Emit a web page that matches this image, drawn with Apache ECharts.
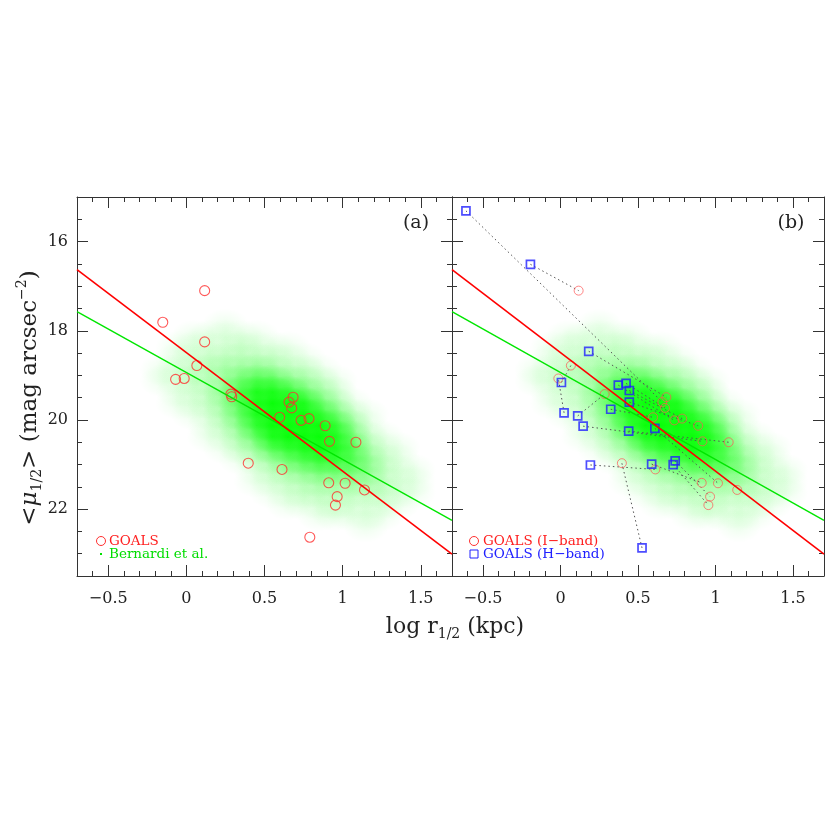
<!DOCTYPE html>
<html lang="en">
<head>
<meta charset="UTF-8">
<title>GOALS size - surface brightness</title>
<script src="https://cdn.jsdelivr.net/npm/echarts@6.0.0/dist/echarts.min.js"></script>
<style>
    body { margin: 0; background: #fff; }
    #main { width: 830px; height: 830px; }
</style>
</head>
<body>
<div id="main"></div>
<script>
// GOALS I-band galaxies: log r1/2 (kpc), <mu1/2>
let goalsIX = [0.117, -0.151, 0.117, 0.067, -0.069, -0.014, 0.285, 0.290, 0.683, 0.657,
    0.674, 0.597, 0.734, 0.785, 0.888, 0.916, 1.085, 0.396, 0.612, 0.911,
    1.016, 1.140, 0.965, 0.954, 0.790];
let goalsIY = [17.10, 17.81, 18.25, 18.78, 19.09, 19.07, 19.42, 19.48, 19.49, 19.60,
    19.73, 19.94, 20.01, 19.97, 20.13, 20.48, 20.50, 20.97, 21.11, 21.41,
    21.42, 21.57, 21.72, 21.91, 22.63];
// the I-band points that are drawn again in panel (b)
let goalsIShownB = [0, 3, 5, 6, 8, 9, 10, 11, 12, 13, 14, 15, 16, 17, 18, 19, 20, 21, 22, 23];

// GOALS H-band galaxies
let goalsHX = [-0.610, -0.194, 0.182, 0.006, 0.373, 0.423, 0.444, 0.444, 0.324, 0.023,
    0.111, 0.146, 0.440, 0.609, 0.193, 0.588, 0.727, 0.740, 0.526];
let goalsHY = [15.31, 16.51, 18.46, 19.16, 19.22, 19.18, 19.34, 19.60, 19.76, 19.84,
    19.91, 20.14, 20.25, 20.19, 21.01, 20.99, 21.00, 20.92, 22.87];
// I-band point that each H-band point is joined to
let goalsHMatch = [9, 0, 8, 3, 12, 10, 13, 14, 11, 5, 6, 15, 16, 20, 18, 19, 23, 22, 17];

// fitted relations
let fitX = [-0.7, 1.7];
let goalsFitY = [16.63, 23.01];
let bernardiFitY = [17.57, 22.25];

let cloudX = [-0.4, -0.3, -0.2, -0.1, 0.0, 0.1, 0.2, 0.3, 0.4, 0.5,
    0.6, 0.7, 0.8, 0.9, 1.0, 1.1, 1.2, 1.3, 1.4, 1.5];
let cloudY = [17.75, 18.0, 18.25, 18.5, 18.75, 19.0, 19.25, 19.5, 19.75, 20.0,
    20.25, 20.5, 20.75, 21.0, 21.25, 21.5, 21.75, 22.0, 22.25];
let cloudDensity = [
    [0, 0, 0, 0, 0, 0, 1, 0, 0, 0, 0, 0, 0, 0, 0, 0, 0, 0, 0, 0],
    [0, 0, 0, 0, 1, 1, 1, 1, 1, 0, 0, 0, 0, 0, 0, 0, 0, 0, 0, 0],
    [0, 0, 0, 1, 1, 1, 1, 2, 1, 1, 1, 0, 0, 0, 0, 0, 0, 0, 0, 0],
    [0, 0, 0, 1, 1, 2, 2, 2, 2, 2, 1, 1, 0, 0, 0, 0, 0, 0, 0, 0],
    [0, 0, 1, 1, 2, 2, 3, 3, 4, 3, 2, 2, 1, 0, 0, 0, 0, 0, 0, 0],
    [0, 0, 1, 1, 2, 2, 3, 5, 6, 6, 4, 3, 2, 1, 0, 0, 0, 0, 0, 0],
    [0, 0, 0, 1, 1, 2, 4, 6, 8, 8, 7, 5, 3, 2, 0, 0, 0, 0, 0, 0],
    [0, 0, 0, 1, 1, 2, 3, 6, 8, 9, 9, 8, 5, 3, 1, 0, 0, 0, 0, 0],
    [0, 0, 0, 0, 1, 1, 3, 5, 8, 9, 9, 9, 7, 5, 2, 1, 0, 0, 0, 0],
    [0, 0, 0, 0, 0, 1, 2, 4, 7, 9, 9, 9, 9, 7, 4, 1, 0, 0, 0, 0],
    [0, 0, 0, 0, 0, 1, 1, 3, 5, 8, 9, 9, 9, 8, 5, 2, 1, 0, 0, 0],
    [0, 0, 0, 0, 0, 0, 1, 2, 3, 6, 7, 8, 9, 8, 6, 3, 1, 1, 0, 0],
    [0, 0, 0, 0, 0, 0, 0, 1, 2, 3, 5, 6, 7, 7, 6, 4, 2, 1, 0, 0],
    [0, 0, 0, 0, 0, 0, 0, 0, 1, 2, 3, 4, 5, 5, 5, 4, 2, 1, 1, 0],
    [0, 0, 0, 0, 0, 0, 0, 0, 1, 1, 2, 2, 3, 3, 3, 3, 2, 1, 1, 0],
    [0, 0, 0, 0, 0, 0, 0, 0, 0, 1, 1, 2, 2, 2, 2, 2, 2, 1, 1, 0],
    [0, 0, 0, 0, 0, 0, 0, 0, 0, 0, 1, 1, 1, 2, 1, 1, 1, 1, 0, 0],
    [0, 0, 0, 0, 0, 0, 0, 0, 0, 0, 0, 0, 1, 1, 1, 1, 1, 0, 0, 0],
    [0, 0, 0, 0, 0, 0, 0, 0, 0, 0, 0, 0, 0, 0, 0, 1, 0, 0, 0, 0]
];

// axis ticks
let xMajorTicks = [-0.5, 0, 0.5, 1, 1.5];
let yMajorTicks = [16, 18, 20, 22];

// drawing settings
let cellW = 0.1, cellH = 0.25;
let blobAlpha = [0, 0.07, 0.13, 0.20, 0.27, 0.35, 0.46, 0.58, 0.72, 0.87];
let font = 'DejaVu Serif';
let axisColor = '#333';
let textColor = '#222';

let cloudData = [];
cloudDensity.forEach(function (row, r) {
    row.forEach(function (d, c) {
        if (d > 0) cloudData.push([cloudX[c], cloudY[r], d]);
    });
});

let goalsIData = goalsIX.map(function (x, i) { return [x, goalsIY[i]]; });
let goalsIDataB = goalsIShownB.map(function (i) { return [goalsIX[i], goalsIY[i]]; });
let goalsHData = goalsHX.map(function (x, i) { return [x, goalsHY[i]]; });
let joinData = goalsHX.map(function (x, i) {
    let j = goalsHMatch[i];
    return {coords: [[x, goalsHY[i]], [goalsIX[j], goalsIY[j]]]};
});
let goalsFit = fitX.map(function (x, i) { return [x, goalsFitY[i]]; });
let bernardiFit = fitX.map(function (x, i) { return [x, bernardiFitY[i]]; });

function fmt(v) {
    return v < 0 ? '\u2212' + (-v) : String(v);
}

// each grid cell is drawn as a soft green blob so the cloud has no hard edges
function renderCell(params, api) {
    let x = api.value(0), y = api.value(1), a = blobAlpha[api.value(2)];
    let c = api.coord([x + cellW / 2, y + cellH / 2]);
    let p0 = api.coord([x, y]);
    let p1 = api.coord([x + cellW, y + cellH]);
    let rx = 1.5 * Math.abs(p1[0] - p0[0]);
    let ry = 1.5 * Math.abs(p1[1] - p0[1]);
    return {
        type: 'circle',
        x: c[0], y: c[1], scaleY: ry / rx,
        shape: {cx: 0, cy: 0, r: rx},
        style: {
            fill: new echarts.graphic.RadialGradient(0.5, 0.5, 0.5, [
                {offset: 0, color: 'rgba(0,255,0,' + a + ')'},
                {offset: 1, color: 'rgba(0,255,0,0)'}
            ])
        }
    };
}

function xAxesFor(g) {
    let ls = {color: axisColor};
    return [
        {gridIndex: g, type: 'value', min: -0.7, max: 1.7, position: 'bottom',
            axisLine: {show: true, onZero: false, lineStyle: ls},
            axisTick: {inside: true, length: 11, customValues: xMajorTicks, lineStyle: ls},
            axisLabel: {customValues: xMajorTicks, formatter: fmt, margin: 15, fontSize: 16,
                fontFamily: font, color: textColor},
            splitLine: {show: false}},
        {gridIndex: g, type: 'value', min: -0.7, max: 1.7, interval: 0.1, position: 'bottom',
            axisLine: {show: false, onZero: false},
            axisTick: {inside: true, length: 5, lineStyle: ls},
            axisLabel: {show: false}, splitLine: {show: false}},
        {gridIndex: g, type: 'value', min: -0.7, max: 1.7, position: 'top',
            axisLine: {show: true, onZero: false, lineStyle: ls},
            axisTick: {inside: true, length: 11, customValues: xMajorTicks, lineStyle: ls},
            axisLabel: {show: false}, splitLine: {show: false}},
        {gridIndex: g, type: 'value', min: -0.7, max: 1.7, interval: 0.1, position: 'top',
            axisLine: {show: false, onZero: false},
            axisTick: {inside: true, length: 5, lineStyle: ls},
            axisLabel: {show: false}, splitLine: {show: false}}
    ];
}

function yAxesFor(g, labels) {
    let ls = {color: axisColor};
    return [
        {gridIndex: g, type: 'value', min: 15, max: 23.5, inverse: true, position: 'left',
            axisLine: {show: true, onZero: false, lineStyle: ls},
            axisTick: {inside: true, length: 11, customValues: yMajorTicks, lineStyle: ls},
            axisLabel: {show: labels, customValues: yMajorTicks, margin: 9, fontSize: 16,
                fontFamily: font, color: textColor},
            splitLine: {show: false}},
        {gridIndex: g, type: 'value', min: 15, max: 23.5, interval: 0.5, inverse: true, position: 'left',
            axisLine: {show: false, onZero: false},
            axisTick: {inside: true, length: 5, lineStyle: ls},
            axisLabel: {show: false}, splitLine: {show: false}},
        {gridIndex: g, type: 'value', min: 15, max: 23.5, inverse: true, position: 'right',
            axisLine: {show: true, onZero: false, lineStyle: ls},
            axisTick: {inside: true, length: 11, customValues: yMajorTicks, lineStyle: ls},
            axisLabel: {show: false}, splitLine: {show: false}},
        {gridIndex: g, type: 'value', min: 15, max: 23.5, interval: 0.5, inverse: true, position: 'right',
            axisLine: {show: false, onZero: false},
            axisTick: {inside: true, length: 5, lineStyle: ls},
            axisLabel: {show: false}, splitLine: {show: false}}
    ];
}

function titleRich(size) {
    let small = Math.round(size * 0.62);
    return {
        a: {fontSize: size, fontFamily: font, fill: textColor, lineHeight: size + 6},
        m: {fontSize: size, fontFamily: font, fontStyle: 'italic', fill: textColor, lineHeight: size + 6},
        s: {fontSize: small, fontFamily: font, fill: textColor, lineHeight: small + 1, verticalAlign: 'bottom'},
        p: {fontSize: small, fontFamily: font, fill: textColor, lineHeight: small + 1, verticalAlign: 'top'}
    };
}

function legendText(x, y, text, color) {
    return {type: 'text', x: x, y: y, style: {text: text, font: '13.5px "DejaVu Serif"', fill: color,
        align: 'left', verticalAlign: 'middle'}};
}

let myChart = echarts.init(document.getElementById('main'));
let option = {
    animation: false,
    backgroundColor: '#fff',
    grid: [
        {left: 77, top: 197, width: 375, height: 379},
        {left: 452, top: 197, width: 372, height: 379}
    ],
    xAxis: xAxesFor(0).concat(xAxesFor(1)),
    yAxis: yAxesFor(0, true).concat(yAxesFor(1, false)),
    series: [
        {type: 'custom', xAxisIndex: 0, yAxisIndex: 0, renderItem: renderCell, data: cloudData, clip: true, silent: true},
        {type: 'line', xAxisIndex: 0, yAxisIndex: 0, data: bernardiFit, showSymbol: false,
            lineStyle: {color: '#00e600', width: 1.4}, silent: true},
        {type: 'line', xAxisIndex: 0, yAxisIndex: 0, data: goalsFit, showSymbol: false,
            lineStyle: {color: '#ff0000', width: 1.6}, silent: true},
        {type: 'scatter', xAxisIndex: 0, yAxisIndex: 0, data: goalsIData, symbol: 'circle', symbolSize: 10,
            itemStyle: {color: 'rgba(0,0,0,0)', borderColor: '#ff3030', borderWidth: 1.1}},

        {type: 'custom', xAxisIndex: 4, yAxisIndex: 4, renderItem: renderCell, data: cloudData, clip: true, silent: true},
        {type: 'line', xAxisIndex: 4, yAxisIndex: 4, data: bernardiFit, showSymbol: false,
            lineStyle: {color: '#00e600', width: 1.4}, silent: true},
        {type: 'line', xAxisIndex: 4, yAxisIndex: 4, data: goalsFit, showSymbol: false,
            lineStyle: {color: '#ff0000', width: 1.6}, silent: true},
        {type: 'lines', coordinateSystem: 'cartesian2d', xAxisIndex: 4, yAxisIndex: 4, data: joinData,
            lineStyle: {color: '#555', width: 1, type: [1.5, 3], opacity: 1}, silent: true},
        {type: 'scatter', xAxisIndex: 4, yAxisIndex: 4, data: goalsIDataB, symbol: 'circle', symbolSize: 9,
            itemStyle: {color: 'rgba(0,0,0,0)', borderColor: '#ff5555', borderWidth: 0.9}},
        {type: 'scatter', xAxisIndex: 4, yAxisIndex: 4, data: goalsHData, symbol: 'rect', symbolSize: 8,
            itemStyle: {color: 'rgba(0,0,0,0)', borderColor: '#2020ff', borderWidth: 1.7}}
    ],
    graphic: [
        {type: 'text', x: 416, y: 223, style: {text: '(a)', font: '19px "DejaVu Serif"', fill: textColor,
            align: 'center', verticalAlign: 'middle'}},
        {type: 'text', x: 791, y: 223, style: {text: '(b)', font: '19px "DejaVu Serif"', fill: textColor,
            align: 'center', verticalAlign: 'middle'}},
        {type: 'text', x: 455, y: 627, style: {text: '{a|log r}{s|1/2}{a| (kpc)}', rich: titleRich(22),
            align: 'center', verticalAlign: 'middle'}},
        {type: 'text', x: 30, y: 398, rotation: Math.PI / 2,
            style: {text: '{a|<}{m|\u03bc}{s|1/2}{a|> (mag arcsec}{p|\u22122}{a|)}', rich: titleRich(23),
                align: 'center', verticalAlign: 'middle'}},

        {type: 'circle', shape: {cx: 101, cy: 541, r: 4.5}, style: {fill: 'none', stroke: '#ff3030', lineWidth: 1}},
        legendText(109, 541, 'GOALS', '#ff2020'),
        {type: 'rect', shape: {x: 100, y: 553, width: 2, height: 2}, style: {fill: '#00e000'}},
        legendText(109, 554, 'Bernardi et al.', '#00dd00'),

        {type: 'circle', shape: {cx: 474, cy: 541, r: 4.5}, style: {fill: 'none', stroke: '#ff3030', lineWidth: 1}},
        legendText(483, 541, 'GOALS (I\u2212band)', '#ff2020'),
        {type: 'rect', shape: {x: 470, y: 550, width: 8, height: 8}, style: {fill: 'none', stroke: '#2020ff', lineWidth: 1}},
        legendText(483, 554, 'GOALS (H\u2212band)', '#2020ff')
    ]
};
myChart.setOption(option);
</script>
</body>
</html>
